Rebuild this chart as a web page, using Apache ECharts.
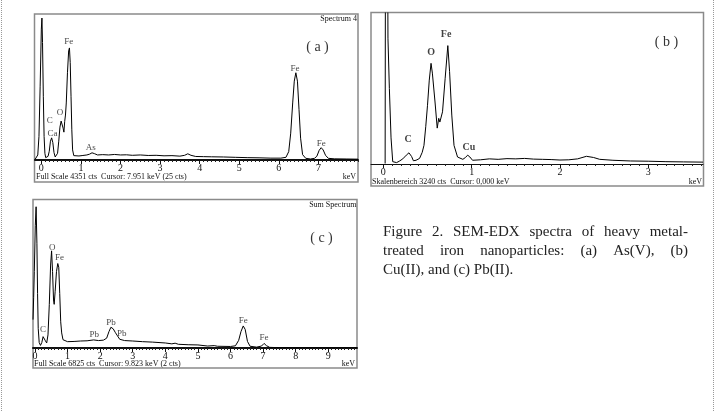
<!DOCTYPE html>
<html>
<head>
<meta charset="utf-8">
<script src="https://cdn.jsdelivr.net/npm/echarts@6/dist/echarts.min.js"></script>
<style>
  html, body { margin: 0; padding: 0; background: #fff; }
  #main { width: 716px; height: 411px; }
</style>
</head>
<body>
<div id="main"></div>
<script>
// spectrum (a) As(V) : [keV, counts]
var specA = [
  [-0.16, 15], [-0.12, 40], [-0.09, 150], [-0.06, 700], [-0.03, 2200], [0.0, 3900],
  [0.015, 4230], [0.03, 3500], [0.05, 1900], [0.07, 700], [0.09, 200], [0.11, 70],
  [0.14, 60], [0.17, 110], [0.2, 260], [0.23, 560], [0.26, 660], [0.29, 520],
  [0.32, 220], [0.35, 90], [0.38, 80], [0.41, 200], [0.44, 560], [0.47, 980],
  [0.5, 1160], [0.52, 1190], [0.55, 950], [0.57, 830], [0.59, 1150], [0.61, 1340],
  [0.63, 1700], [0.66, 2600], [0.69, 3250], [0.71, 3340], [0.73, 2900], [0.75, 1900],
  [0.77, 900], [0.79, 300], [0.82, 130], [0.87, 100], [0.95, 120], [1.05, 135],
  [1.15, 150], [1.22, 175], [1.28, 215], [1.34, 190], [1.42, 150], [1.55, 160],
  [1.7, 150], [1.85, 165], [2.0, 150], [2.15, 155], [2.3, 140], [2.5, 150],
  [2.7, 135], [2.9, 140], [3.1, 125], [3.3, 130], [3.5, 115], [3.62, 140],
  [3.7, 185], [3.78, 140], [3.9, 105], [4.1, 100], [4.3, 95], [4.6, 90],
  [4.9, 80], [5.2, 70], [5.5, 65], [5.8, 55], [6.05, 55], [6.18, 80],
  [6.25, 250], [6.3, 800], [6.35, 1700], [6.39, 2350], [6.43, 2600], [6.47, 2350],
  [6.51, 1500], [6.55, 650], [6.6, 160], [6.68, 50], [6.8, 30], [6.9, 50],
  [6.96, 110], [7.02, 290], [7.07, 367], [7.12, 300], [7.18, 140], [7.25, 50],
  [7.4, 35], [7.7, 30], [8.0, 25]
];
var peaksA = [
  [0.69, 3520, 'Fe'], [0.47, 1400, 'O'], [0.21, 1160, 'C'], [0.28, 790, 'Ca'],
  [1.25, 370, 'As'], [6.41, 2730, 'Fe'], [7.07, 500, 'Fe']
];

// spectrum (b) Cu(II)
var specB = [
  [0.02, 10], [0.024, 5000], [0.048, 5000], [0.052, 2700], [0.068, 1620], [0.087, 560],
  [0.106, 50], [0.125, 15], [0.15, 30], [0.18, 60], [0.22, 110], [0.26, 190],
  [0.29, 240], [0.32, 160], [0.34, 70], [0.37, 80], [0.41, 120], [0.44, 250],
  [0.46, 400], [0.48, 800], [0.5, 1260], [0.52, 1800], [0.54, 2160], [0.555, 1950],
  [0.57, 1940], [0.585, 1330], [0.61, 770], [0.627, 980], [0.64, 900], [0.67, 1120],
  [0.7, 1840], [0.73, 2540], [0.75, 1980], [0.775, 1050], [0.8, 400], [0.84, 150],
  [0.9, 100], [0.93, 140], [0.955, 190], [0.98, 150], [1.01, 80], [1.1, 90],
  [1.2, 110], [1.3, 100], [1.4, 115], [1.5, 110], [1.6, 120], [1.7, 105],
  [1.8, 100], [1.9, 95], [2.0, 85], [2.1, 90], [2.2, 110], [2.3, 165],
  [2.38, 140], [2.45, 100], [2.6, 80], [2.8, 65], [3.0, 60], [3.2, 50],
  [3.4, 45], [3.62, 40]
];
var peaksB = [[0.71, 2790, 'Fe'], [0.54, 2390, 'O'], [0.28, 530, 'C'], [0.97, 350, 'Cu']];

// spectrum (c) Pb(II)
var specC = [
  [-0.06, 1300], [-0.04, 2300], [-0.02, 3500], [0.01, 5600], [0.035, 6470], [0.06, 4800],
  [0.08, 2500], [0.1, 900], [0.13, 250], [0.17, 120], [0.21, 250], [0.25, 520],
  [0.28, 565], [0.32, 330], [0.36, 230], [0.4, 600], [0.44, 2000], [0.48, 3800],
  [0.51, 4450], [0.54, 3500], [0.57, 2200], [0.59, 2000], [0.62, 2600], [0.66, 3500],
  [0.7, 3870], [0.73, 3700], [0.76, 2500], [0.79, 1200], [0.82, 690], [0.86, 380],
  [0.92, 300], [1.0, 290], [1.2, 300], [1.4, 320], [1.6, 330], [1.8, 370],
  [1.95, 340], [2.1, 360], [2.2, 450], [2.27, 750], [2.33, 950], [2.4, 880],
  [2.47, 700], [2.53, 560], [2.6, 400], [2.75, 340], [3.0, 320], [3.3, 290],
  [3.6, 270], [4.0, 230], [4.2, 190], [4.3, 220], [4.4, 170], [4.7, 150],
  [5.0, 140], [5.3, 90], [5.5, 110], [5.6, 80], [5.8, 75], [6.0, 70],
  [6.15, 100], [6.25, 350], [6.32, 750], [6.39, 1010], [6.45, 850], [6.52, 300],
  [6.6, 80], [6.8, 40], [6.95, 90], [7.03, 210], [7.1, 110], [7.2, 30],
  [7.5, 15], [8.0, 10], [9.0, 5], [9.88, 5]
];
var peaksC = [
  [0.53, 4600, 'O'], [0.75, 4130, 'Fe'], [0.25, 830, 'C'], [1.82, 630, 'Pb'],
  [2.33, 1160, 'Pb'], [2.66, 640, 'Pb'], [6.39, 1240, 'Fe'], [7.03, 470, 'Fe']
];

var fullScale = [4351, 3240, 6825];
var majorA = [0, 1, 2, 3, 4, 5, 6, 7];
var majorB = [0, 1, 2, 3];
var majorC = [0, 1, 2, 3, 4, 5, 6, 7, 8, 9];

var serif = '"Liberation Serif", "Times New Roman", serif';

var chartDom = document.getElementById('main');
var myChart = echarts.init(chartDom);

function minorTicks(max) { // 0.1 keV steps
  var t = [];
  for (var i = 0; i <= Math.floor(max * 10); i++) t.push(i / 10);
  return t;
}

var panels = [
  { spec: specA, peaks: peaksA, major: majorA, min: -0.16, max: 8.0, lineW: 2, bold: false,
    grid: { left: 35, top: 14, width: 323, height: 146 } },
  { spec: specB, peaks: peaksB, major: majorB, min: -0.14, max: 3.62, lineW: 1, bold: true,
    grid: { left: 371, top: 13, width: 332, height: 151 } },
  { spec: specC, peaks: peaksC, major: majorC, min: -0.06, max: 9.88, lineW: 2, bold: false,
    grid: { left: 33, top: 199, width: 324, height: 149 } }
];

var grids = [], xAxes = [], yAxes = [], series = [];
panels.forEach(function (p, i) {
  grids.push(Object.assign({ show: false }, p.grid));
  // axis line + minor ticks
  xAxes.push({
    gridIndex: i, type: 'value', min: p.min, max: p.max, position: 'bottom',
    axisLine: { show: true, onZero: false, lineStyle: { color: '#111', width: p.lineW } },
    axisTick: { show: true, customValues: minorTicks(p.max), length: 2, lineStyle: { color: '#222' } },
    axisLabel: { show: false }, splitLine: { show: false }
  });
  // major ticks + labels
  xAxes.push({
    gridIndex: i, type: 'value', min: p.min, max: p.max, position: 'bottom',
    axisLine: { show: false, onZero: false },
    axisTick: { show: true, customValues: p.major, length: 4, lineStyle: { color: '#111' } },
    axisLabel: { show: true, customValues: p.major, margin: 3, fontSize: 10, fontFamily: serif, color: '#111' },
    splitLine: { show: false }
  });
  yAxes.push({ gridIndex: i, type: 'value', min: 0, max: fullScale[i], show: false });
  series.push({
    type: 'line', xAxisIndex: 2 * i, yAxisIndex: i, data: p.spec,
    showSymbol: false, clip: true, animation: false, silent: true,
    lineStyle: { color: '#000', width: 1 }
  });
  series.push({
    type: 'scatter', xAxisIndex: 2 * i, yAxisIndex: i, animation: false, silent: true,
    symbolSize: 1, itemStyle: { color: 'rgba(0,0,0,0)' },
    data: p.peaks.map(function (d) { return { value: [d[0], d[1]], name: d[2] }; }),
    label: {
      show: true, position: 'inside', formatter: '{b}', color: '#111',
      fontFamily: serif, fontSize: p.bold ? 10 : 9, fontWeight: p.bold ? 'bold' : 'normal'
    }
  });
});

// caption, justified line by line
var capFont = '15px ' + serif;
var capLines = [
  'Figure 2. SEM-EDX spectra of heavy metal-',
  'treated iron nanoparticles: (a) As(V), (b)',
  'Cu(II), and (c) Pb(II).'
];
var capY = [232, 251, 270];
var capLeft = 383, capRight = 688;
var ctx = document.createElement('canvas').getContext('2d');
ctx.font = capFont;
var graphics = [];
capLines.forEach(function (line, li) {
  var words = line.split(' ');
  if (li === capLines.length - 1) {
    graphics.push({ type: 'text', x: capLeft, y: capY[li],
      style: { text: line, font: capFont, fill: '#222', textVerticalAlign: 'middle' } });
    return;
  }
  var total = 0;
  words.forEach(function (w) { total += ctx.measureText(w).width; });
  var gap = (capRight - capLeft - total) / (words.length - 1);
  var x = capLeft;
  words.forEach(function (w) {
    graphics.push({ type: 'text', x: x, y: capY[li], style: { text: w, font: capFont, fill: '#222', textVerticalAlign: 'middle' } });
    x += ctx.measureText(w).width + gap;
  });
});

var smallFont = '8px ' + serif;
graphics = graphics.concat([
  // outer dotted frame
  { type: 'line', shape: { x1: 1.5, y1: 0, x2: 1.5, y2: 411 }, style: { stroke: '#999', lineWidth: 1, lineDash: [1, 1] } },
  { type: 'line', shape: { x1: 713.5, y1: 0, x2: 713.5, y2: 411 }, style: { stroke: '#999', lineWidth: 1, lineDash: [1, 1] } },
  // panel boxes
  { type: 'rect', shape: { x: 34.5, y: 14, width: 323.5, height: 168 }, style: { fill: 'none', stroke: '#8a8a8a', lineWidth: 1.5 } },
  { type: 'rect', shape: { x: 371, y: 12.5, width: 332.5, height: 173.5 }, style: { fill: 'none', stroke: '#8a8a8a', lineWidth: 1.5 } },
  { type: 'rect', shape: { x: 33, y: 199.5, width: 324, height: 168.5 }, style: { fill: 'none', stroke: '#8a8a8a', lineWidth: 1.5 } },
  // footers
  { type: 'text', x: 36, y: 177, style: { text: 'Full Scale 4351 cts  Cursor: 7.951 keV (25 cts)', font: smallFont, fill: '#111', textVerticalAlign: 'middle' } },
  { type: 'text', x: 356, y: 177, style: { text: 'keV', font: smallFont, fill: '#111', textAlign: 'right', textVerticalAlign: 'middle' } },
  { type: 'text', x: 372, y: 182, style: { text: 'Skalenbereich 3240 cts  Cursor: 0,000 keV', font: smallFont, fill: '#111', textVerticalAlign: 'middle' } },
  { type: 'text', x: 702, y: 182, style: { text: 'keV', font: smallFont, fill: '#111', textAlign: 'right', textVerticalAlign: 'middle' } },
  { type: 'text', x: 34, y: 364, style: { text: 'Full Scale 6825 cts  Cursor: 9.823 keV (2 cts)', font: smallFont, fill: '#111', textVerticalAlign: 'middle' } },
  { type: 'text', x: 355, y: 364, style: { text: 'keV', font: smallFont, fill: '#111', textAlign: 'right', textVerticalAlign: 'middle' } },
  // spectrum names
  { type: 'text', x: 357, y: 18.5, style: { text: 'Spectrum 4', font: smallFont, fill: '#111', textAlign: 'right', textVerticalAlign: 'middle' } },
  { type: 'text', x: 356.5, y: 204.5, style: { text: 'Sum Spectrum', font: smallFont, fill: '#111', textAlign: 'right', textVerticalAlign: 'middle' } },
  // panel letters
  { type: 'text', x: 317.5, y: 47.5, style: { text: '( a )', font: '14px ' + serif, fill: '#333', textAlign: 'center', textVerticalAlign: 'middle' } },
  { type: 'text', x: 666.5, y: 42.5, style: { text: '( b )', font: '14px ' + serif, fill: '#333', textAlign: 'center', textVerticalAlign: 'middle' } },
  { type: 'text', x: 321.5, y: 238, style: { text: '( c )', font: '14px ' + serif, fill: '#333', textAlign: 'center', textVerticalAlign: 'middle' } }
]);

var option = {
  backgroundColor: '#fff',
  animation: false,
  grid: grids,
  xAxis: xAxes,
  yAxis: yAxes,
  series: series,
  graphic: { elements: graphics }
};

option && myChart.setOption(option);
</script>
</body>
</html>
